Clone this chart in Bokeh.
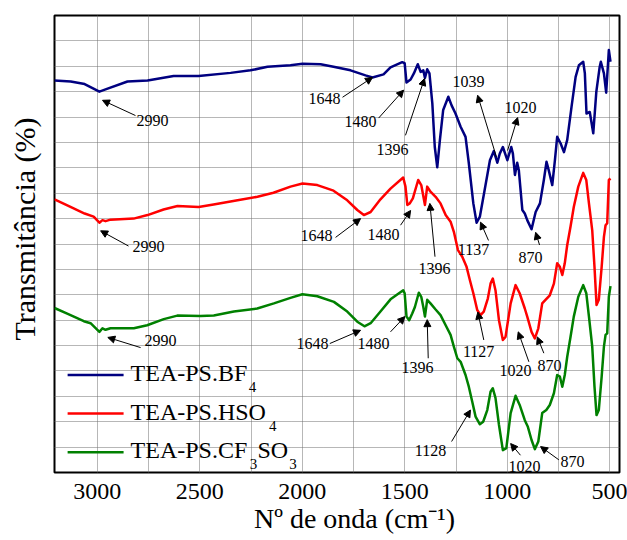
from bokeh.plotting import figure
from bokeh.models import Range1d, FixedTicker, Label, Arrow, NormalHead, ColumnDataSource
from bokeh.core.properties import value
from bokeh.embed import file_html
from bokeh.resources import INLINE

FONT = "Liberation Serif"

# ---------------- data (wavenumber cm-1, transmittance a.u. with offsets) ----------------
bf4_wn = [3209, 3130, 3062, 2990, 2950, 2853, 2755, 2628, 2506, 2350, 2253, 2170, 2058, 1999,
          1911, 1848, 1765, 1692, 1658, 1604, 1570, 1513, 1501, 1492, 1472, 1456, 1437, 1423,
          1410, 1402, 1391, 1380, 1366, 1354, 1342, 1329, 1313, 1288, 1272, 1253, 1228, 1204,
          1188, 1166, 1150, 1134, 1111, 1085, 1066, 1049, 1037, 1022, 1000, 981, 973, 963, 952,
          944, 927, 915, 903, 882, 862, 841, 822, 809, 798, 781, 768, 757, 740, 724, 708, 687,
          667, 651, 630, 622, 614, 598, 581, 566, 550, 544, 529, 518, 510, 505, 497]
bf4_t = [77.2, 77.0, 76.5, 75.0, 75.6, 77.0, 77.2, 78.1, 78.1, 78.7, 79.2, 79.9, 80.2, 80.5,
         80.4, 79.9, 79.2, 78.2, 77.8, 78.4, 79.8, 80.8, 80.6, 76.8, 77.4, 78.6, 80.4, 78.9,
         79.2, 77.7, 79.4, 78.6, 72.7, 64.1, 60.1, 65.5, 71.4, 74.0, 72.3, 70.7, 68.1, 66.1,
         60.9, 53.0, 49.2, 50.4, 55.6, 61.5, 63.3, 61.0, 62.8, 64.1, 61.5, 64.1, 62.8, 58.6, 61.0,
         59.5, 51.7, 51.0, 49.7, 47.9, 51.3, 53.0, 57.6, 61.2, 59.5, 56.6, 61.5, 66.1, 64.8, 63.1,
         65.5, 72.0, 77.9, 80.2, 80.9, 78.6, 70.7, 71.0, 66.8, 75.0, 79.8, 80.9, 78.6, 74.8, 79.9,
         83.2, 80.9]

hso4_wn = [3209, 3131, 3062, 3018, 2990, 2975, 2960, 2936, 2823, 2755, 2677, 2609, 2506, 2433,
           2316, 2219, 2141, 2058, 1999, 1927, 1848, 1781, 1732, 1700, 1667, 1619, 1570, 1508,
           1497, 1488, 1476, 1461, 1435, 1420, 1402, 1391, 1375, 1350, 1326, 1301, 1277, 1261,
           1241, 1220, 1199, 1183, 1166, 1147, 1131, 1115, 1095, 1082, 1071, 1058, 1041, 1022,
           1009, 984, 960, 940, 915, 903, 882, 866, 849, 830, 814, 793, 773, 757, 744, 732, 720,
           708, 692, 676, 654, 630, 615, 602, 586, 575, 565, 554, 540, 529, 521, 513, 505, 497]
hso4_t = [53.8, 52.3, 51.0, 50.4, 49.2, 49.7, 49.5, 49.8, 50.0, 50.7, 51.8, 52.5, 52.3, 52.8,
          53.6, 54.3, 55.1, 56.3, 56.9, 56.6, 55.5, 53.6, 51.7, 50.7, 51.3, 53.8, 55.9, 58.1,
          56.3, 52.7, 53.0, 54.0, 57.6, 56.6, 52.7, 56.3, 55.3, 54.3, 53.0, 50.7, 49.4, 47.4,
          43.8, 42.5, 40.5, 37.9, 35.3, 32.0, 31.0, 31.7, 34.3, 37.2, 38.2, 35.9, 30.0, 26.1,
          26.7, 33.3, 36.9, 35.3, 32.3, 30.7, 27.7, 26.4, 28.4, 33.3, 34.0, 34.9, 37.2, 41.2, 40.5,
          38.9, 41.2, 44.8, 48.4, 52.3, 56.3, 59.0, 57.6, 53.0, 47.7, 40.5, 33.0, 34.0, 40.5, 46.4,
          48.7, 49.1, 57.6, 57.9]

cf3so3_wn = [3209, 3147, 3066, 3033, 2990, 2975, 2960, 2936, 2822, 2757, 2676, 2610, 2497, 2432,
             2334, 2220, 2139, 2058, 2000, 1927, 1846, 1781, 1732, 1697, 1667, 1619, 1570, 1508,
             1501, 1492, 1479, 1464, 1451, 1432, 1420, 1410, 1402, 1391, 1375, 1350, 1326, 1301,
             1277, 1261, 1244, 1228, 1204, 1188, 1171, 1155, 1134, 1118, 1098, 1082, 1071, 1058,
             1041, 1022, 1005, 984, 960, 940, 915, 900, 882, 866, 849, 830, 810, 793, 773, 757,
             744, 732, 720, 708, 692, 676, 654, 630, 615, 602, 586, 575, 565, 554, 540, 529, 521,
             513, 505, 497]
cf3so3_t = [32.4, 31.3, 29.8, 29.4, 27.7, 28.4, 28.1, 28.4, 28.4, 29.0, 30.2, 30.9, 30.8, 30.9,
            31.7, 32.3, 33.3, 34.4, 35.1, 34.7, 33.6, 31.7, 29.7, 28.8, 29.4, 31.7, 34.1, 35.9,
            35.3, 30.7, 30.0, 31.3, 32.6, 35.4, 34.6, 32.6, 30.7, 34.0, 33.3, 32.1, 31.0, 29.0,
            27.1, 24.8, 22.5, 21.8, 19.2, 16.9, 13.9, 11.0, 9.5, 10.0, 12.3, 15.9, 16.6, 14.7,
            9.4, 4.4, 4.8, 11.7, 15.1, 13.3, 10.3, 9.0, 6.4, 4.6, 6.1, 11.7, 12.3, 13.3, 15.6, 19.2,
            18.9, 16.9, 19.2, 22.8, 26.7, 30.7, 34.6, 36.9, 35.3, 30.7, 24.8, 16.9, 11.3, 12.3,
            18.9, 24.8, 27.1, 27.4, 34.6, 36.7]

series_names = ["TEA-PS.BF", "TEA-PS.HSO", "TEA-PS.CF"]
series_colors = ["#000080", "#ff0000", "#008000"]

x_ticks = [500, 1000, 1500, 2000, 2500, 3000]

# peak annotations: label, label position, arrow tail, arrow head
ann_text = ["2990", "1648", "1480", "1396", "1039", "1020", "1137", "870",
            "2990", "1648", "1480", "1396", "1127", "1020", "870",
            "2990", "1648", "1480", "1396", "1128", "1020", "870"]
ann_x = [2731, 1892, 1716, 1560, 1189, 936, 1165, 887,
         2750, 1931, 1604, 1355, 1140, 960, 794,
         2692, 1950, 1653, 1438, 1375, 916, 682]
ann_y = [69.3, 73.7, 69.2, 63.6, 77.1, 71.9, 44.0, 42.4,
         44.6, 46.7, 46.9, 40.2, 23.9, 20.0, 21.0,
         25.9, 25.5, 25.5, 20.6, 4.4, 1.1, 2.1]
arr_x0 = [2814, 1804, 1628, 1497, 1053, 999, 1092, 843,
          2848, 1838, 1521, 1353, 1115, 895, 822,
          2789, 1866, 1570, 1386, 1272, 936, 749]
arr_y0 = [70.3, 73.9, 69.8, 66.4, 62.1, 63.4, 45.7, 44.8,
          44.6, 46.3, 48.7, 42.5, 26.1, 21.8, 23.5,
          24.6, 25.4, 27.7, 22.5, 6.1, 3.4, 2.5]
arr_x1 = [2975, 1658, 1506, 1404, 1145, 950, 1131, 862,
          2984, 1716, 1472, 1378, 1144, 947, 854,
          2949, 1716, 1500, 1391, 1180, 984, 838]
arr_y1 = [73.3, 77.8, 75.3, 77.6, 74.3, 69.9, 49.3, 47.3,
          47.6, 50.0, 51.6, 53.0, 31.6, 27.7, 26.7,
          26.6, 28.0, 30.7, 30.1, 12.3, 5.7, 5.1]

# ---------------- figure ----------------
p = figure(width=627, height=540, output_backend="svg", toolbar_location=None,
           x_range=Range1d(3209, 453), y_range=Range1d(0, 90),
           min_border_left=54, min_border_right=8, min_border_top=15, min_border_bottom=68)
p.background_fill_color = "white"
p.border_fill_color = "white"
p.outline_line_color = "black"
p.outline_line_width = 2

p.xgrid.ticker = FixedTicker(ticks=list(range(500, 3001, 250)))
p.ygrid.ticker = FixedTicker(ticks=list(range(5, 90, 5)))
p.grid.grid_line_color = "#6e6e6e"
p.grid.grid_line_dash = "1 1"
p.grid.grid_line_width = 1

NB = "\u00a0"
p.xaxis.ticker = FixedTicker(ticks=x_ticks)
p.xaxis.axis_line_color = None
p.xaxis.major_tick_line_color = None
p.xaxis.minor_tick_line_color = None
p.xaxis.major_label_text_font = FONT
p.xaxis.major_label_text_font_size = "24px"
p.xaxis.major_label_text_color = "black"
p.xaxis.major_label_standoff = 5
p.xaxis.axis_label = NB * 5 + "Nº de onda (cm⁻¹)"
p.xaxis.axis_label_text_font = FONT
p.xaxis.axis_label_text_font_size = "28px"
p.xaxis.axis_label_text_font_style = "normal"
p.xaxis.axis_label_text_color = "black"
p.xaxis.axis_label_standoff = 1

p.yaxis.ticker = FixedTicker(ticks=[])
p.yaxis.axis_line_color = None
p.yaxis.major_tick_line_color = None
p.yaxis.minor_tick_line_color = None
p.yaxis.axis_label = NB * 4 + "Transmitância (%)"
p.yaxis.axis_label_text_font = FONT
p.yaxis.axis_label_text_font_size = "30px"
p.yaxis.axis_label_text_font_style = "normal"
p.yaxis.axis_label_text_color = "black"
p.yaxis.axis_label_standoff = 14

# curves
for wn, t, c in [(bf4_wn, bf4_t, series_colors[0]),
                 (hso4_wn, hso4_t, series_colors[1]),
                 (cf3so3_wn, cf3so3_t, series_colors[2])]:
    p.line(wn, t, line_color=c, line_width=2.5, line_join="round")

# annotations
p.text(x=ann_x, y=ann_y, text=ann_text, text_font=value(FONT), text_font_size="16px",
       text_align="center", text_baseline="middle", text_color="black")
arr_src = ColumnDataSource(dict(x0=arr_x0, y0=arr_y0, x1=arr_x1, y1=arr_y1))
p.add_layout(Arrow(end=NormalHead(size=7, fill_color="black", line_color="black", line_width=1),
                   x_start="x0", y_start="y0", x_end="x1", y_end="y1", source=arr_src,
                   line_color="black", line_width=1))

# legend (drawn manually to allow subscripts)
leg_rows = [19.2, 11.6, 4.0]
for yy, c in zip(leg_rows, series_colors):
    p.segment(x0=[3145], y0=[yy], x1=[2872], y1=[yy], line_color=c, line_width=2.5)

def lab(x, y, txt, size, align="left", baseline="middle"):
    p.add_layout(Label(x=x, y=y, text=txt, text_font=FONT, text_font_size=size,
                       text_align=align, text_baseline=baseline, text_color="black"))

lab(2838, 19.6, series_names[0], "24px")
lab(2262, 16.8, "4", "15px")
lab(2838, 12.0, series_names[1], "24px")
lab(2163, 9.2, "4", "15px")
lab(2838, 4.4, series_names[2], "24px")
lab(2256, 1.7, "3", "15px")
lab(2219, 4.4, "SO", "24px")
lab(2064, 1.7, "3", "15px")

open("out.html", "w").write(file_html(p, INLINE))
